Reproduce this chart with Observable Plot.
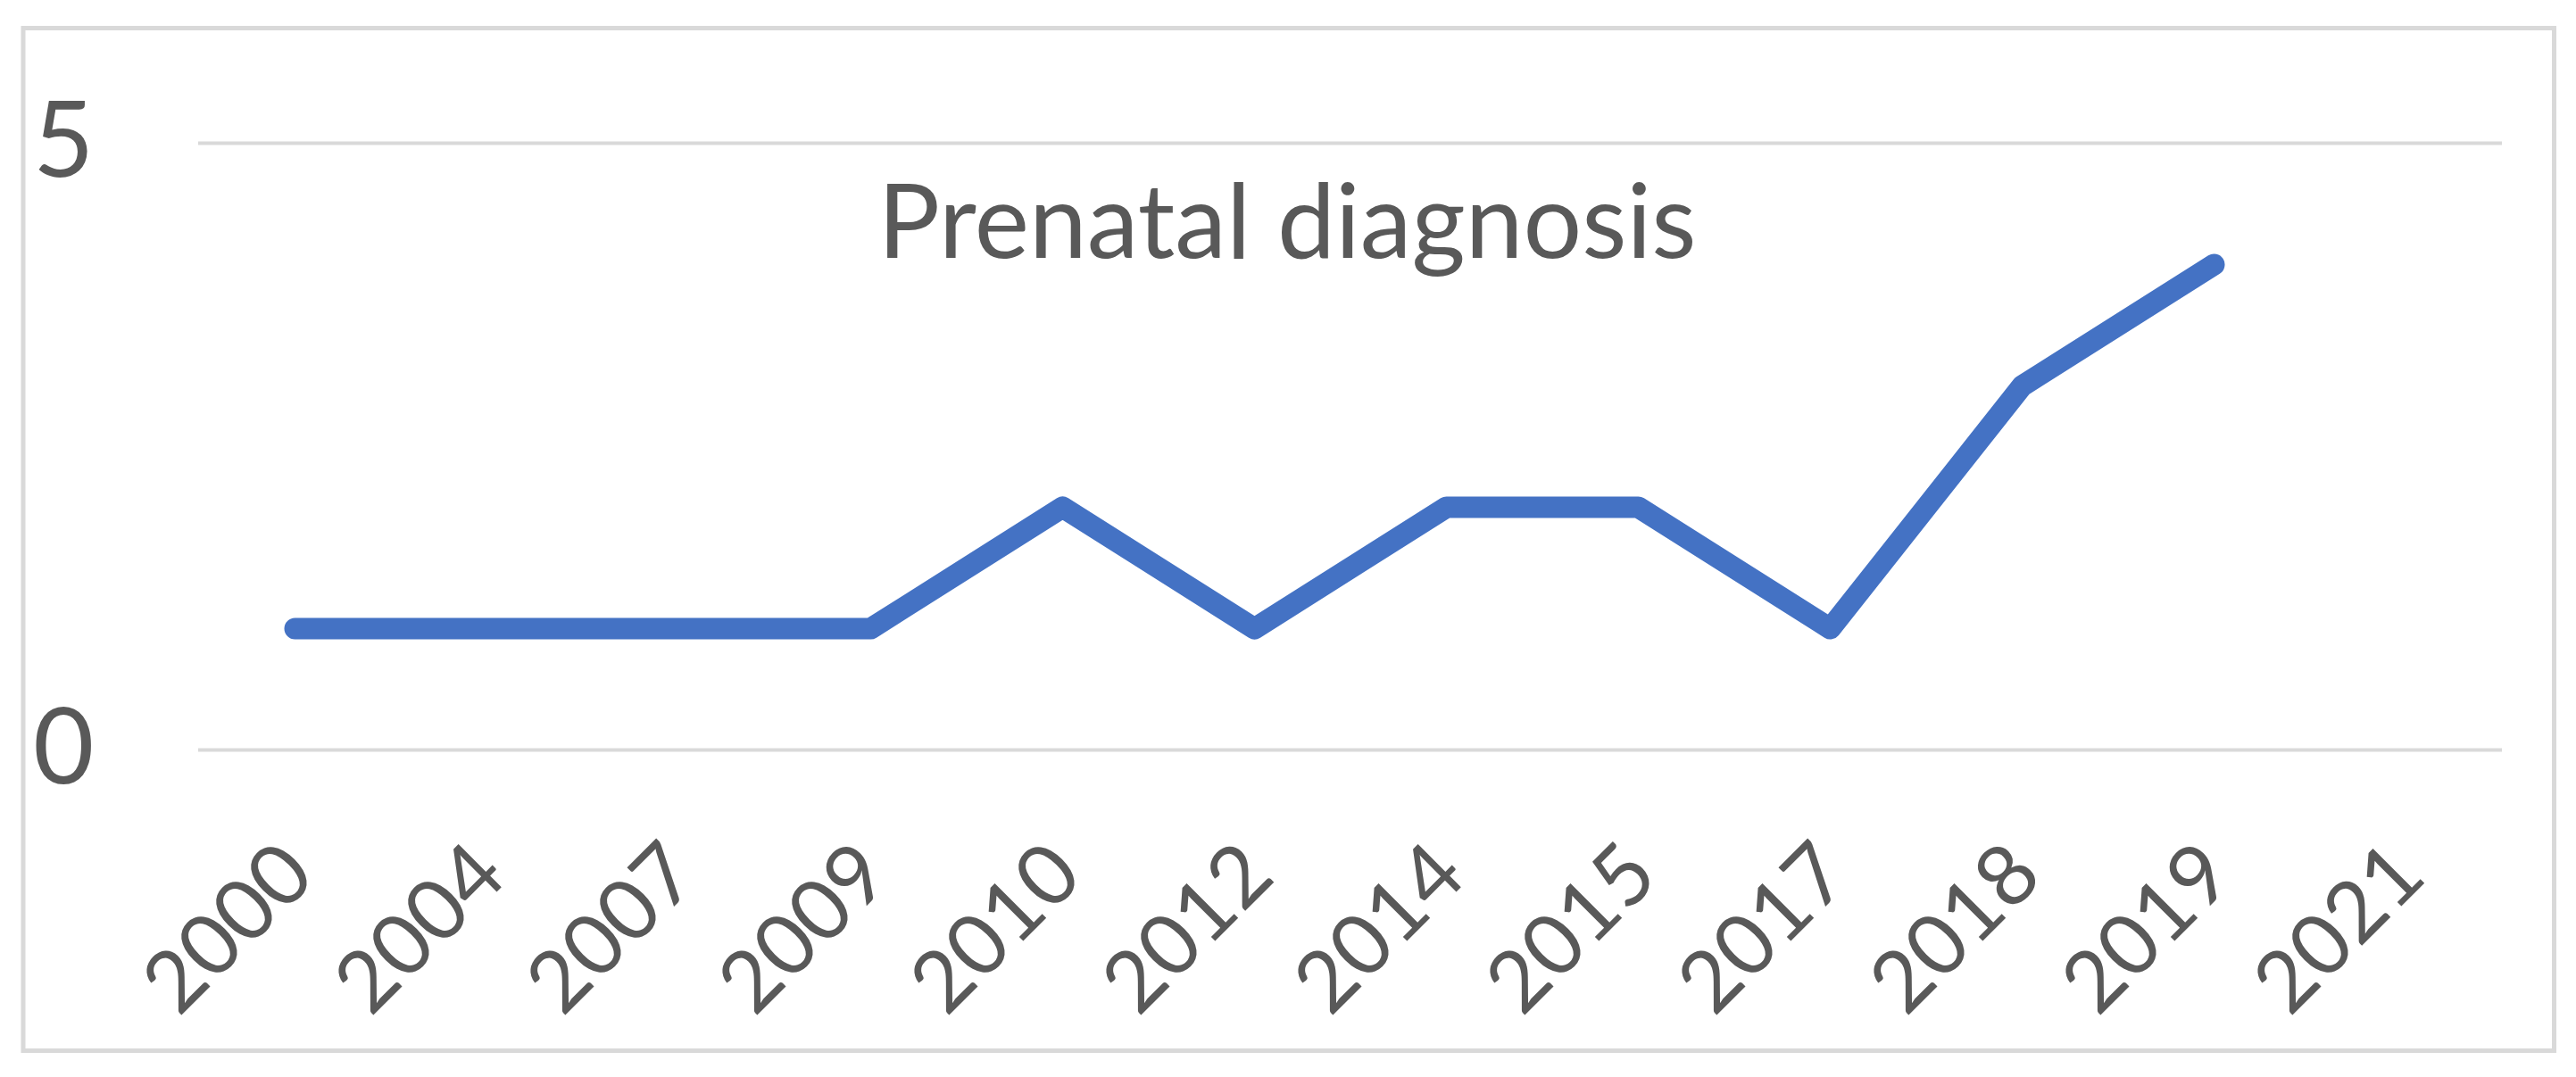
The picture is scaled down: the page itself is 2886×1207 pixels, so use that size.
<!DOCTYPE html>
<html><head><meta charset="utf-8">
<script src="https://cdn.jsdelivr.net/npm/d3@7"></script>
<script src="https://cdn.jsdelivr.net/npm/@observablehq/plot@0.6"></script>
<style>html,body{margin:0;padding:0;background:#fff;} svg{display:block}</style>
</head><body><div id="chart"></div>
<script>
const years = ["2000","2004","2007","2009","2010","2012","2014","2015","2017","2018","2019","2021"];
const counts = [1,1,1,1,2,1,2,2,1,3,4,null];
const yTicks = [0,5];
const title = "Prenatal diagnosis";

const data = years.map((year, i) => ({year, count: counts[i]}));

const chart = Plot.plot({
  width: 2886, height: 1207,
  marginLeft: 222, marginRight: 83, marginTop: 160, marginBottom: 367,
  style: {fontFamily: "Lato, sans-serif", color: "#595959", background: "#fff"},
  x: {type: "point", domain: years, padding: 0.5},
  y: {domain: [0, 5]},
  marks: [
    Plot.frame({stroke: "#d9d9d9", strokeWidth: 5, insetLeft: -196.5, insetRight: -58, insetTop: -129, insetBottom: -337}),
    Plot.ruleY(yTicks, {stroke: "#d9d9d9", strokeWidth: 4}),
    Plot.axisY({ticks: yTicks, tickFormat: d3.format("d"), tickSize: 0, tickPadding: 117, fontSize: 118, fill: "#595959", label: null}),
    Plot.axisX({tickRotate: -45, tickSize: 0, tickPadding: 123, fontSize: 95, dx: 4, fill: "#595959", label: null}),
    Plot.lineY(data, {x: "year", y: "count", stroke: "#4472C4", strokeWidth: 24, strokeLinejoin: "round", strokeLinecap: "round"}),
    Plot.text([title], {frameAnchor: "top", dx: -71, dy: 128, lineAnchor: "bottom", fontSize: 116, fill: "#595959"})
  ]
});
document.getElementById("chart").appendChild(chart);
</script>
</body></html>
